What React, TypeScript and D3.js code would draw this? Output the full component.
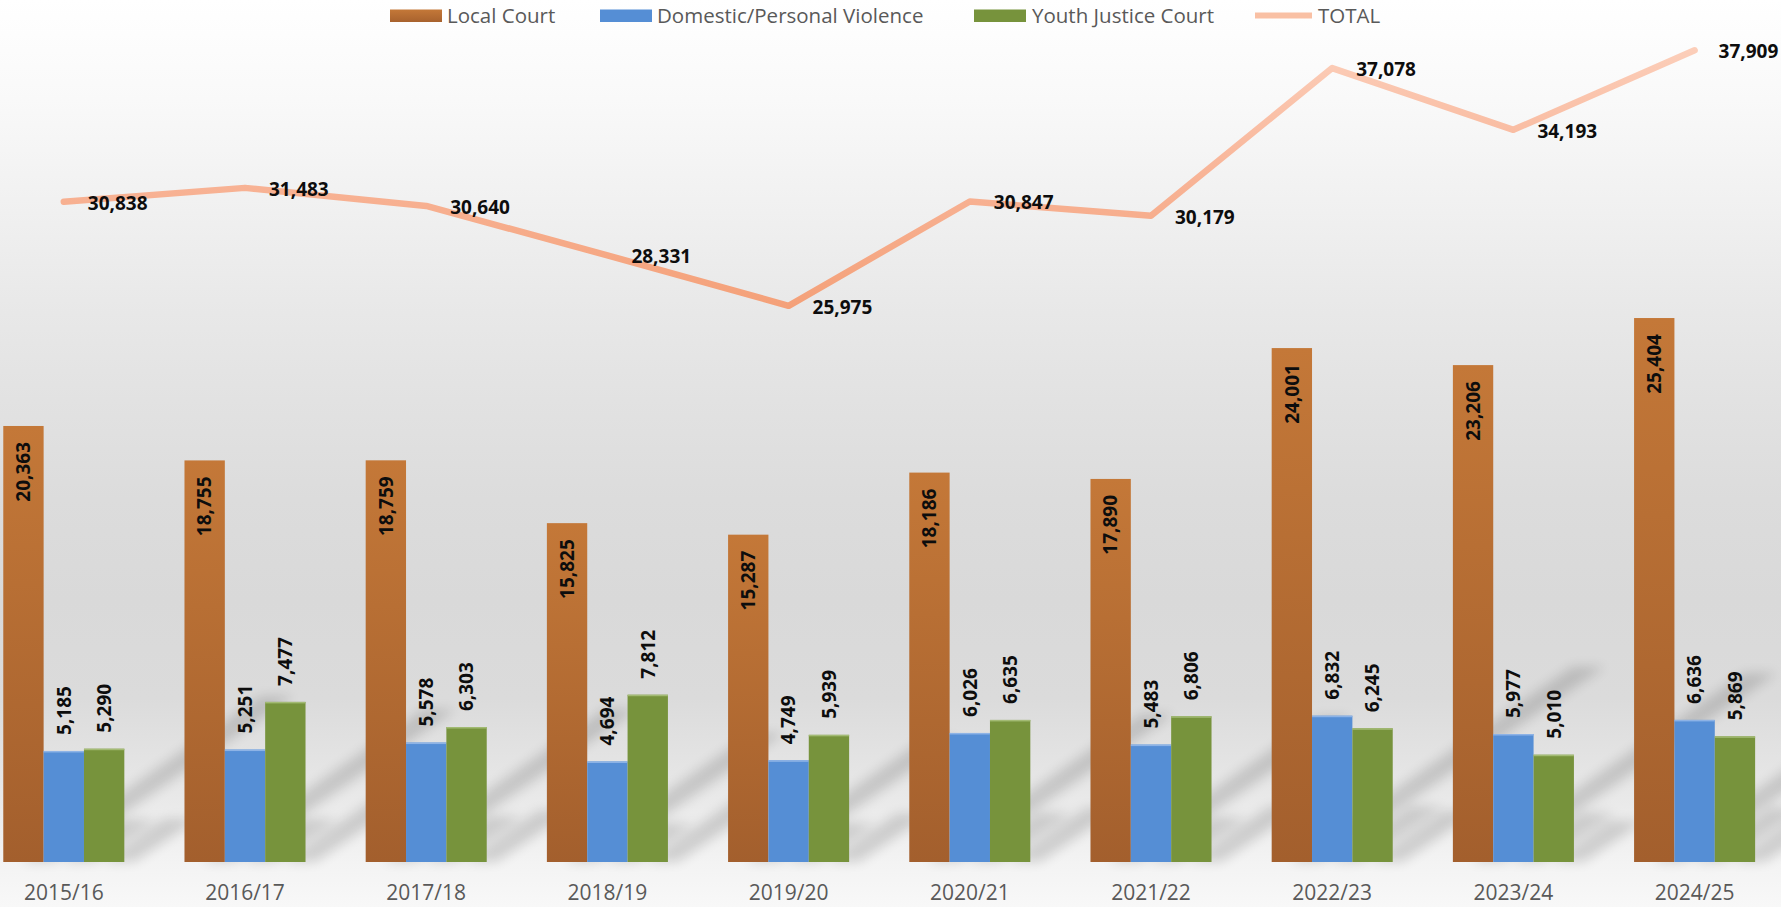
import React from 'react';
import * as d3 from 'd3';

const categories = ['2015/16', '2016/17', '2017/18', '2018/19', '2019/20', '2020/21', '2021/22', '2022/23', '2023/24', '2024/25'];
const localCourt = [20363, 18755, 18759, 15825, 15287, 18186, 17890, 24001, 23206, 25404];
const domesticViolence = [5185, 5251, 5578, 4694, 4749, 6026, 5483, 6832, 5977, 6636];
const youthJustice = [5290, 7477, 6303, 7812, 5939, 6635, 6806, 6245, 5010, 5869];
const totals = [30838, 31483, 30640, 28331, 25975, 30847, 30179, 37078, 34193, 37909];
const seriesNames = ['Local Court', 'Domestic/Personal Violence', 'Youth Justice Court'];
const totalName = 'TOTAL';

const W = 1781;
const H = 907;
const FONT = "'Open Sans', 'Noto Sans', sans-serif";

export default function App() {
  const series = [
    { key: 'local', name: seriesNames[0], values: localCourt, fill: 'url(#gLocal)', inside: true, topLine: null as string | null },
    { key: 'domestic', name: seriesNames[1], values: domesticViolence, fill: '#558ED5', inside: false, topLine: '#8DB3E6' },
    { key: 'youth', name: seriesNames[2], values: youthJustice, fill: '#77933C', inside: false, topLine: '#A3BB74' },
  ];

  const x = d3.scaleBand<string>().domain(categories).range([-26.8, 1785.2]).paddingInner(0.332).paddingOuter(0.166);
  const xs = d3.scaleBand<string>().domain(series.map((s) => s.key)).range([0, x.bandwidth()]).padding(0);
  const y = d3.scaleLinear().domain([0, 40000]).range([862, 5.5]);
  const base = y(0);
  const fmt = d3.format(',');
  const cx = (i: number) => (x(categories[i]) as number) + x.bandwidth() / 2;

  const linePath = d3
    .line<number>()
    .x((_, i) => cx(i))
    .y((d) => y(d))(totals) as string;

  const bw = xs.bandwidth();

  const legendItems = [
    { type: 'rect', fill: 'url(#gLocalLegend)', label: seriesNames[0], sx: 390, tx: 447 },
    { type: 'rect', fill: '#558ED5', label: seriesNames[1], sx: 600, tx: 657 },
    { type: 'rect', fill: '#77933C', label: seriesNames[2], sx: 974, tx: 1032 },
    { type: 'line', fill: '#F9C0A4', label: totalName, sx: 1255, tx: 1318 },
  ];

  return (
    <div>
      <style>{`body{margin:0;overflow:hidden}`}</style>
      <svg width={W} height={H} style={{ display: 'block' }} fontFamily={FONT}>
        <defs>
          <linearGradient id="gBg" x1="0" y1="0" x2="0" y2="1">
            <stop offset="0" stopColor="#ffffff" />
            <stop offset="0.11" stopColor="#f9f9f9" />
            <stop offset="0.22" stopColor="#f1f1f1" />
            <stop offset="0.33" stopColor="#e9e9e9" />
            <stop offset="0.44" stopColor="#e2e2e2" />
            <stop offset="0.55" stopColor="#dcdcdc" />
            <stop offset="0.66" stopColor="#d9d9d9" />
            <stop offset="0.77" stopColor="#dbdbdb" />
            <stop offset="0.86" stopColor="#e6e6e6" />
            <stop offset="0.95" stopColor="#f3f3f3" />
            <stop offset="1" stopColor="#f8f8f8" />
          </linearGradient>
          <linearGradient id="gLocal" x1="0" y1="0" x2="0" y2="1">
            <stop offset="0" stopColor="#C47838" />
            <stop offset="1" stopColor="#A35F2D" />
          </linearGradient>
          <linearGradient id="gLocalLegend" x1="0" y1="0" x2="0" y2="1">
            <stop offset="0" stopColor="#C47838" />
            <stop offset="1" stopColor="#A8622E" />
          </linearGradient>
          <linearGradient id="gLine" gradientUnits="userSpaceOnUse" x1="0" y1="40" x2="0" y2="310">
            <stop offset="0" stopColor="#FCD0BC" />
            <stop offset="0.5" stopColor="#F8B497" />
            <stop offset="1" stopColor="#F4A078" />
          </linearGradient>
          <filter id="fShadow" x="-50%" y="-50%" width="200%" height="200%">
            <feGaussianBlur stdDeviation="6" />
          </filter>
        </defs>

        <rect x={0} y={0} width={W} height={H} fill="url(#gBg)" />

        {/* perspective shadows */}
        <g filter="url(#fShadow)" fill="#000" opacity={0.14}>
          {series.map((s) =>
            s.values.map((v, i) => {
              const x0 = (x(categories[i]) as number) + (xs(s.key) as number) + 18;
              const x1 = x0 + bw * 0.8;
              const h = base - y(v);
              const dx = 0.55 * h;
              const dy = 0.38 * h;
              const pts = `${x0},${base} ${x1},${base} ${x1 + dx},${base - dy} ${x0 + dx},${base - dy}`;
              return <polygon key={`sh-${s.key}-${i}`} points={pts} />;
            })
          )}
        </g>

        {/* bars */}
        {series.map((s) => (
          <g key={s.key}>
            {s.values.map((v, i) => {
              const bx = (x(categories[i]) as number) + (xs(s.key) as number);
              const by = y(v);
              return (
                <g key={i}>
                  <rect x={bx} y={by} width={bw} height={base - by} fill={s.fill} />
                  {s.topLine && <rect x={bx} y={by} width={bw} height={1.5} fill={s.topLine} />}
                </g>
              );
            })}
          </g>
        ))}

        {/* bar labels */}
        {series.map((s) => (
          <g key={`lab-${s.key}`}>
            {s.values.map((v, i) => {
              const lx = (x(categories[i]) as number) + (xs(s.key) as number) + bw / 2;
              const ly = s.inside ? y(v) + 16 : y(v) - 16;
              return (
                <text
                  key={i}
                  transform={`translate(${lx},${ly}) rotate(-90)`}
                  textAnchor={s.inside ? 'end' : 'start'}
                  dy="0.36em"
                  fontSize={19}
                  fontWeight={700}
                  fill="#0d0d0d"
                >
                  {fmt(v)}
                </text>
              );
            })}
          </g>
        ))}

        {/* total line */}
        <path d={linePath} fill="none" stroke="url(#gLine)" strokeWidth={6.5} strokeLinejoin="round" strokeLinecap="round" />
        {totals.map((v, i) => (
          <text key={`tl-${i}`} x={cx(i) + 24} y={y(v) + 1} dy="0.36em" fontSize={19} fontWeight={700} fill="#0d0d0d">
            {fmt(v)}
          </text>
        ))}

        {/* x axis labels */}
        {categories.map((c, i) => (
          <text key={c} x={cx(i)} y={900} textAnchor="middle" fontSize={21} fill="#595959">
            {c}
          </text>
        ))}

        {/* legend */}
        {legendItems.map((it) => (
          <g key={it.label}>
            {it.type === 'rect' ? (
              <rect x={it.sx} y={9.5} width={52} height={12.5} fill={it.fill} />
            ) : (
              <line x1={it.sx} x2={it.sx + 57} y1={15.5} y2={15.5} stroke={it.fill} strokeWidth={6} />
            )}
            <text x={it.tx} y={15.5} dy="0.36em" fontSize={20.5} fill="#595959">
              {it.label}
            </text>
          </g>
        ))}
      </svg>
    </div>
  );
}
